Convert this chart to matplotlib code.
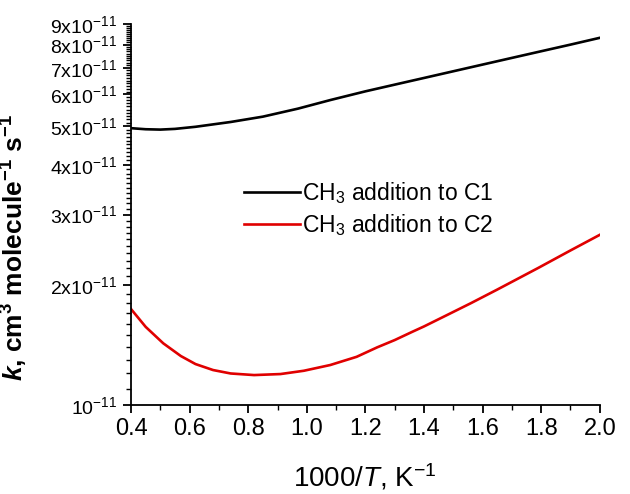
import numpy as np
import matplotlib
matplotlib.use("Agg")
import matplotlib.pyplot as plt
from matplotlib.ticker import FixedLocator, NullFormatter

plt.rcParams['font.family'] = ['Liberation Sans', 'DejaVu Sans']
plt.rcParams['mathtext.fontset'] = 'custom'
plt.rcParams['mathtext.rm'] = 'Liberation Sans'
plt.rcParams['mathtext.it'] = 'Liberation Sans:italic'
plt.rcParams['mathtext.bf'] = 'Liberation Sans:bold'
plt.rcParams['mathtext.bfit'] = 'Liberation Sans:italic:bold'

# data (1000/T, K^-1) and rate constants in units of 1e-11 cm3 molecule-1 s-1
x_c1 = [0.40, 0.45, 0.50, 0.55, 0.62, 0.74, 0.85, 0.97, 1.08, 1.20, 1.32,
        1.40, 1.50, 1.60, 1.70, 1.80, 1.90, 2.00]
k_c1 = [4.94, 4.91, 4.90, 4.92, 4.98, 5.12, 5.28, 5.53, 5.81, 6.11, 6.40,
        6.60, 6.86, 7.13, 7.41, 7.70, 8.00, 8.32]

x_c2 = [0.40, 0.45, 0.51, 0.57, 0.62, 0.68, 0.74, 0.82, 0.91, 0.99, 1.08,
        1.17, 1.24, 1.30, 1.36, 1.40, 1.48, 1.56, 1.65, 1.71, 1.79, 1.90, 2.00]
k_c2 = [1.74, 1.57, 1.428, 1.327, 1.267, 1.224, 1.200, 1.189, 1.196, 1.219, 1.260,
        1.321, 1.395, 1.455, 1.526, 1.574, 1.683, 1.80, 1.947, 2.054, 2.206, 2.44, 2.67]

series_labels = [r'CH$_3$ addition to C1', r'CH$_3$ addition to C2']
series_colors = ['#000000', '#e00000']

y_tick_values = [1, 2, 3, 4, 5, 6, 7, 8, 9]
y_tick_labels = [r'$10^{-11}$'] + [rf'${v}\mathrm{{x}}10^{{-11}}$' for v in y_tick_values[1:]]
x_tick_values = [0.4, 0.6, 0.8, 1.0, 1.2, 1.4, 1.6, 1.8, 2.0]
x_tick_labels = ['0.4', '0.6', '0.8', '1.0', '1.2', '1.4', '1.6', '1.8', '2.0']

fig = plt.figure(figsize=(6.3, 4.94), dpi=100)
ax = fig.add_axes([0.208, 0.180, 0.744, 0.771])

scale = 1e-11
ax.plot(x_c1, np.array(k_c1) * scale, color=series_colors[0], lw=1.9, label=series_labels[0])
ax.plot(x_c2, np.array(k_c2) * scale, color=series_colors[1], lw=1.9, label=series_labels[1])

ax.set_yscale('log')
ax.set_xlim(0.4, 2.0)
ax.set_ylim(1e-11, 9e-11)

ax.yaxis.set_major_locator(FixedLocator([v * scale for v in y_tick_values]))
ax.set_yticklabels(y_tick_labels)
minor_y = [i * 1e-12 for i in range(10, 91) if i % 10 != 0]
ax.yaxis.set_minor_locator(FixedLocator(minor_y))
ax.yaxis.set_minor_formatter(NullFormatter())

ax.xaxis.set_major_locator(FixedLocator(x_tick_values))
ax.set_xticklabels(x_tick_labels)
ax.xaxis.set_minor_locator(FixedLocator([0.5, 0.7, 0.9, 1.1, 1.3, 1.5, 1.7, 1.9]))

ax.spines['top'].set_visible(False)
ax.spines['right'].set_visible(False)
for s in ['left', 'bottom']:
    ax.spines[s].set_linewidth(1.3)

ax.tick_params(axis='both', which='major', direction='out', length=6, width=1.3,
               labelsize=14, pad=4)
ax.tick_params(axis='x', which='major', labelsize=17, pad=3)
ax.tick_params(axis='both', which='minor', direction='out', length=3.5, width=1.0)

ax.set_xlabel(r'1000/$T$, K$^{-1}$', fontsize=20, labelpad=16)
ax.set_ylabel(r'$\mathbfit{k}$, cm$^{\mathbf{3}}$ molecule$^{\mathbf{-1}}$ s$^{\mathbf{-1}}$',
              fontsize=19, fontweight='bold')
ax.yaxis.set_label_coords(-0.215, 0.415)

leg = ax.legend(loc='upper left', bbox_to_anchor=(0.196, 0.645), frameon=False,
                fontsize=16.5, handlelength=2.45, handletextpad=0.12, labelspacing=0.25)

fig.savefig('out.png', dpi=100)
